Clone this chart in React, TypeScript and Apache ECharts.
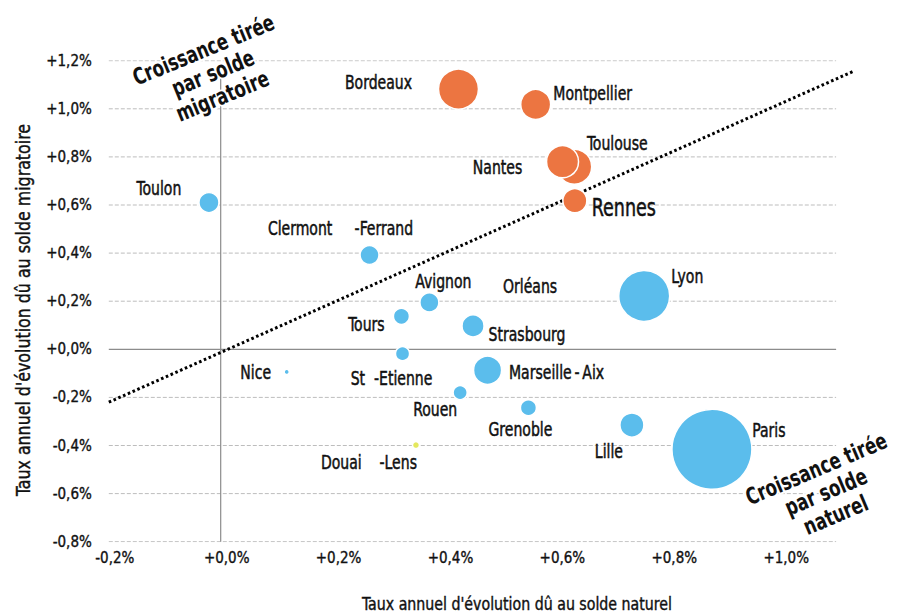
import React, { useEffect, useRef } from "react";
import * as echarts from "echarts";

// ---- Data ----
const cities = [
  "Toulon", "Bordeaux", "Montpellier", "Toulouse", "Nantes", "Rennes",
  "Clermont     -Ferrand", "Avignon", "Orléans", "Tours", "Strasbourg",
  "St  -Etienne", "Nice", "Marseille\u2009-\u2009Aix", "Rouen", "Grenoble",
  "Lyon", "Lille", "Paris", "Douai    -Lens",
];
// Taux annuel d'évolution dû au solde naturel (%)
const soldeNaturel = [
  -0.021, 0.425, 0.563, 0.632, 0.611, 0.633, 0.266, 0.373, 0.553, 0.323, 0.451,
  0.325, 0.118, 0.477, 0.428, 0.55, 0.757, 0.735, 0.878, 0.349,
];
// Taux annuel d'évolution dû au solde migratoire (%)
const soldeMigratoire = [
  0.61, 1.082, 1.018, 0.759, 0.78, 0.618, 0.392, 0.195, 0.265, 0.137, 0.097,
  -0.018, -0.094, -0.087, -0.18, -0.243, 0.222, -0.315, -0.416, -0.398,
];
// Bubble weight (area proportional)
const poids = [
  6.25, 25, 14, 19, 16, 9, 5.6, 5.6, 0, 4, 7.6, 3.1, 0.4, 12.3, 3.1, 4, 40.6, 9,
  100, 0.77,
];
const groupe = [
  "bleu", "orange", "orange", "orange", "orange", "orange", "bleu", "bleu", "bleu",
  "bleu", "bleu", "bleu", "bleu", "bleu", "bleu", "bleu", "bleu", "bleu", "bleu",
  "jaune",
];
const xTicks = [-0.2, 0, 0.2, 0.4, 0.6, 0.8, 1.0];
const yTicks = [-0.8, -0.6, -0.4, -0.2, 0, 0.2, 0.4, 0.6, 0.8, 1.0, 1.2];
const diagonaleX = [-0.2, 1.13];
const diagonaleY = [-0.22, 1.155];

// ---- Layout / style (not data) ----
const FONT = '"DejaVu Sans Condensed", "DejaVu Sans", sans-serif';
const COND = 0.78;
const INK = "#111";
const COLORS: Record<string, string> = {
  bleu: "#5bbdec",
  orange: "#ec7541",
  jaune: "#e4e85e",
};
const labelOffsets: Record<string, [number, number]> = {
  Toulon: [-50, -15],
  Bordeaux: [-80, -7],
  Montpellier: [57, -12],
  Toulouse: [43, -24],
  Nantes: [-65, 5],
  Rennes: [49, 6],
  "Clermont     -Ferrand": [-29, -27],
  Avignon: [14, -22],
  Orléans: [0, 0],
  Tours: [-35, 7],
  Strasbourg: [54, 8],
  "St  -Etienne": [-11, 24],
  Nice: [-31, 0],
  "Marseille\u2009-\u2009Aix": [69, 2],
  Rouen: [-25, 16],
  Grenoble: [-8, 21],
  Lyon: [43, -20],
  Lille: [-23, 26],
  Paris: [57, -20],
  "Douai    -Lens": [-47, 17],
};

const X_MIN = -0.2;
const X_MAX = 1.14;
const GRID_X_END = 1.1;
const ZERO_LINE_TOP = 1.13;

const fmtPct = (ticks: number[]) => (v: number) => {
  const t = ticks.find((k) => Math.abs(k - v) < 1e-6);
  if (t === undefined) return "";
  return (t < 0 ? "-" : "+") + Math.abs(t).toFixed(1).replace(".", ",") + "%";
};

export default function App() {
  const ref = useRef<HTMLDivElement>(null);
  useEffect(() => {
    if (!ref.current) return;
    const chart = echarts.init(ref.current, undefined, { renderer: "svg" });

    const gridSeries = yTicks.map((v) => ({
      type: "line",
      silent: true,
      symbol: "none",
      z: 1,
      data: [
        [X_MIN, v],
        [GRID_X_END, v],
      ],
      lineStyle:
        v === 0
          ? { color: "#8c8c8c", width: 1.2, type: "solid" }
          : { color: "#bdbdbd", width: 1, type: [4, 2] },
    }));

    const bubbles = cities.map((c, i) => ({
      name: c,
      value: [soldeNaturel[i], soldeMigratoire[i]],
      symbolSize: 8 * Math.sqrt(poids[i]),
      itemStyle: { color: COLORS[groupe[i]] },
    }));

    const tickLabel = {
      fontSize: 15,
      color: INK,
      fontFamily: FONT,
      textBorderColor: INK,
      textBorderWidth: 0.35,
    };

    chart.setOption({
      animation: false,
      textStyle: { fontFamily: FONT },
      grid: { left: 108.8, right: 899 - 858.5, top: 60.7, bottom: 614 - 541.7 },
      xAxis: {
        type: "value",
        min: X_MIN,
        max: X_MAX,
        interval: 0.2,
        axisLine: { show: false },
        axisTick: { show: false },
        splitLine: { show: false },
        axisLabel: {
          ...tickLabel,
          margin: 9,
          padding: [0, 0, 0, 12],
          formatter: fmtPct(xTicks),
        },
      },
      yAxis: {
        type: "value",
        min: -0.8,
        max: 1.2,
        interval: 0.2,
        axisLine: { show: false },
        axisTick: { show: false },
        splitLine: { show: false },
        axisLabel: {
          ...tickLabel,
          margin: 17,
          formatter: fmtPct(yTicks),
        },
      },
      series: [
        ...gridSeries,
        {
          type: "line",
          silent: true,
          symbol: "none",
          z: 1,
          data: [
            [0, -0.8],
            [0, ZERO_LINE_TOP],
          ],
          lineStyle: { color: "#8c8c8c", width: 1.2 },
        },
        {
          type: "line",
          silent: true,
          symbol: "none",
          z: 2,
          data: diagonaleX.map((x, i) => [x, diagonaleY[i]]),
          lineStyle: { color: "#000", width: 3, type: [2.6, 2.6] },
        },
        {
          type: "scatter",
          z: 3,
          data: bubbles,
          itemStyle: { borderColor: "#fff", borderWidth: 1.5, opacity: 1 },
          label: { show: false },
          emphasis: { disabled: true },
        },
        {
          type: "custom",
          z: 4,
          silent: true,
          data: cities.map((c, i) => [soldeNaturel[i], soldeMigratoire[i], i]),
          encode: { x: 0, y: 1 },
          renderItem: (params: any, api: any) => {
            const i = api.value(2);
            const name = cities[i];
            const p = api.coord([api.value(0), api.value(1)]);
            const off = labelOffsets[name] || [0, 0];
            const size = name === "Rennes" ? 25 : 20;
            return {
              type: "text",
              x: p[0] + off[0],
              y: p[1] + off[1],
              scaleX: COND,
              style: {
                text: name,
                fill: INK,
                font: `${size}px ${FONT}`,
                align: "center",
                verticalAlign: "middle",
                stroke: INK,
                lineWidth: 0.5,
              },
            };
          },
        },
      ],
      graphic: [
        {
          type: "text",
          x: 213,
          y: 73,
          rotation: 0.39,
          scaleX: 0.8,
          z: 10,
          style: {
            text: "Croissance tirée\npar solde\nmigratoire",
            fill: INK,
            font: `bold 23px ${FONT}`,
            align: "center",
            verticalAlign: "middle",
            lineHeight: 25,
            stroke: "#fff",
            lineWidth: 4,
          },
        },
        {
          type: "text",
          x: 826,
          y: 492,
          rotation: 0.4,
          scaleX: 0.8,
          z: 10,
          style: {
            text: "Croissance tirée\npar solde\nnaturel",
            fill: INK,
            font: `bold 23px ${FONT}`,
            align: "center",
            verticalAlign: "middle",
            lineHeight: 25,
            stroke: "#fff",
            lineWidth: 4,
          },
        },
        {
          type: "text",
          x: 517,
          y: 604,
          scaleX: 0.876,
          style: {
            text: "Taux annuel d'évolution dû au solde naturel",
            fill: INK,
            font: `18px ${FONT}`,
            align: "center",
            verticalAlign: "middle",
            stroke: INK,
            lineWidth: 0.4,
          },
        },
        {
          type: "text",
          x: 23,
          y: 310,
          rotation: Math.PI / 2,
          scaleX: 0.88,
          style: {
            text: "Taux annuel d'évolution dû au solde migratoire",
            fill: INK,
            font: `20px ${FONT}`,
            align: "center",
            verticalAlign: "middle",
            stroke: INK,
            lineWidth: 0.4,
          },
        },
      ],
    });
    return () => chart.dispose();
  }, []);
  return (
    <div
      ref={ref}
      style={{ position: "absolute", left: 0, top: 0, width: 899, height: 614, background: "#fff" }}
    />
  );
}
